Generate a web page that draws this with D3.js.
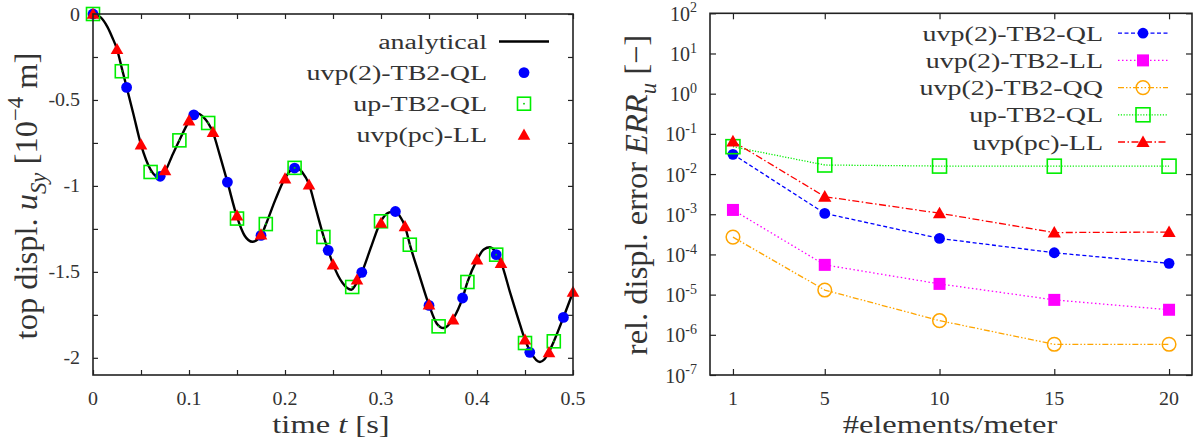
<!DOCTYPE html>
<html>
<head>
<meta charset="utf-8">
<script src="https://cdn.jsdelivr.net/npm/d3@7"></script>
<style>
  body { margin: 0; background: #fff; }
  text { font-family: "Liberation Serif", "DejaVu Serif", serif; fill: #333; }
</style>
</head>
<body>
<svg id="fig" width="1197" height="448"></svg>
<script>
// ---- left panel: top displacement over time ----
const tAnalytical = [0, 0.008, 0.015, 0.02, 0.025, 0.03, 0.035, 0.042, 0.05, 0.06, 0.067, 0.075, 0.082, 0.09, 0.1, 0.109,
  0.115, 0.12, 0.125, 0.132, 0.14, 0.15, 0.158, 0.166, 0.175, 0.18, 0.19, 0.2, 0.211, 0.218, 0.225, 0.232, 0.24, 0.245,
  0.25, 0.26, 0.269, 0.275, 0.28, 0.29, 0.3, 0.308, 0.315, 0.32, 0.325, 0.33, 0.34, 0.35, 0.358, 0.365, 0.375, 0.385,
  0.39, 0.4, 0.407, 0.4135, 0.42, 0.425, 0.435, 0.445, 0.45, 0.456, 0.4656, 0.47, 0.475, 0.48, 0.49, 0.5];
const uAnalytical = [0, -0.02, -0.075, -0.135, -0.205, -0.315, -0.425, -0.58, -0.76, -0.905, -0.945, -0.915, -0.83, -0.735, -0.625, -0.578,
  -0.6, -0.635, -0.69, -0.82, -0.977, -1.18, -1.29, -1.325, -1.29, -1.225, -1.08, -0.955, -0.89, -0.92, -0.99, -1.13, -1.29, -1.375,
  -1.455, -1.565, -1.604, -1.56, -1.503, -1.35, -1.205, -1.155, -1.148, -1.18, -1.235, -1.34, -1.52, -1.693, -1.8, -1.827, -1.775, -1.652,
  -1.56, -1.43, -1.37, -1.357, -1.39, -1.445, -1.63, -1.81, -1.895, -1.968, -2.024, -2.01, -1.965, -1.905, -1.765, -1.617];

const tQL = [0, 0.035, 0.07, 0.105, 0.14, 0.175, 0.21, 0.245, 0.28, 0.315, 0.35, 0.385, 0.42, 0.455, 0.49];
const uQL = [0, -0.427, -0.944, -0.587, -0.978, -1.288, -0.896, -1.375, -1.503, -1.149, -1.695, -1.652, -1.4, -1.968, -1.765];

const tUp = [0, 0.03, 0.06, 0.09, 0.12, 0.15, 0.18, 0.21, 0.24, 0.27, 0.3, 0.33, 0.36, 0.39, 0.42, 0.45, 0.48];
const uUp = [0, -0.333, -0.919, -0.735, -0.634, -1.19, -1.222, -0.895, -1.297, -1.588, -1.206, -1.342, -1.817, -1.559, -1.4, -1.914, -1.904];

const tPC = [0, 0.025, 0.05, 0.075, 0.1, 0.125, 0.15, 0.175, 0.2, 0.225, 0.25, 0.275, 0.3, 0.325, 0.35, 0.375, 0.4, 0.425, 0.45, 0.475, 0.5];
const uPC = [0, -0.205, -0.76, -0.91, -0.62, -0.687, -1.173, -1.283, -0.958, -0.993, -1.458, -1.546, -1.216, -1.235, -1.691, -1.778, -1.429, -1.449, -1.895, -1.968, -1.617];

const leftXTicks = [0, 0.1, 0.2, 0.3, 0.4, 0.5];
const leftYTicks = [0, -0.5, -1, -1.5, -2];
const leftYTickLabels = ["0", "-0.5", "-1", "-1.5", "-2"];
const leftLegend = ["analytical", "uvp(2)-TB2-QL", "up-TB2-QL", "uvp(pc)-LL"];

// ---- right panel: convergence ----
const elemsPerMeter = [1, 5, 10, 15, 20];
const errUvpQL = [3.1e-2, 1.05e-3, 2.5e-4, 1.1e-4, 6.0e-5];
const errUvpLL = [1.28e-3, 5.5e-5, 1.85e-5, 7.4e-6, 4.2e-6];
const errUvpQQ = [2.7e-4, 1.3e-5, 2.25e-6, 5.8e-7, 5.8e-7];
const errUpQL = [4.8e-2, 1.68e-2, 1.58e-2, 1.57e-2, 1.57e-2];
const errUvpPC = [6.5e-2, 2.74e-3, 1.06e-3, 3.5e-4, 3.6e-4];
const rightYExponents = [2, 1, 0, -1, -2, -3, -4, -5, -6, -7];
const rightLegend = ["uvp(2)-TB2-QL", "uvp(2)-TB2-LL", "uvp(2)-TB2-QQ", "up-TB2-QL", "uvp(pc)-LL"];

const svg = d3.select("#fig");
const INK = "#222";

// text helper: parts with italic / sub / sup, stretched horizontally like the original
function addText(g, x, y, parts, o) {
  const size = o.size, sx = o.sx || 1;
  const t = g.append("text")
    .attr("transform", o.rotate
      ? `translate(${x},${y}) rotate(-90) scale(1,${sx})`
      : `translate(${x},${y}) scale(${sx},1)`)
    .attr("text-anchor", o.anchor || "middle")
    .attr("font-size", size);
  let shift = 0;
  parts.forEach(p => {
    if (typeof p === "string") p = { t: p };
    const s = t.append("tspan").text(p.t);
    const target = p.sub ? size * 0.28 : p.sup ? -size * 0.42 : 0;
    if (target !== shift) { s.attr("dy", target - shift); shift = target; }
    if (p.sub || p.sup) s.attr("font-size", size * 0.7);
    if (p.it) s.attr("font-style", "italic");
  });
  return t;
}

function triPath(s) {
  return `M0,${-s * 0.55}L${s * 0.55},${s * 0.42}L${-s * 0.55},${s * 0.42}Z`;
}

// =============== LEFT PANEL ===============
const L = { x0: 93, x1: 573, y0: 14, y1: 375 };
const xL = d3.scaleLinear().domain([0, 0.5]).range([L.x0, L.x1]);
const yL = d3.scaleLinear().domain([-2.1, 0]).range([L.y1, L.y0]);
const gL = svg.append("g");

function ticksOnly(g, axis, tr) {
  const a = g.append("g").attr("transform", tr).call(axis);
  a.select(".domain").remove();
  a.selectAll(".tick text").remove();
  a.selectAll(".tick line").attr("stroke", INK).attr("stroke-width", 1.2);
}
const xMinorL = d3.range(0, 0.5001, 0.05);
const yMinorL = d3.range(-2, 0.0001, 0.25);
ticksOnly(gL, d3.axisBottom(xL).tickValues(xMinorL).tickSize(-5), `translate(0,${L.y1})`);
ticksOnly(gL, d3.axisTop(xL).tickValues(xMinorL).tickSize(-5), `translate(0,${L.y0})`);
ticksOnly(gL, d3.axisLeft(yL).tickValues(yMinorL).tickSize(-5), `translate(${L.x0},0)`);
ticksOnly(gL, d3.axisRight(yL).tickValues(yMinorL).tickSize(-5), `translate(${L.x1},0)`);

leftXTicks.forEach(v => addText(gL, xL(v), 405, [String(v)], { size: 19, sx: 1.05 }));
leftYTicks.forEach((v, i) => addText(gL, 80, yL(v) + 6.5, [leftYTickLabels[i]], { size: 19, sx: 1.05, anchor: "end" }));

const curve = d3.line().x(d => xL(d[0])).y(d => yL(d[1])).curve(d3.curveMonotoneX);
gL.append("path")
  .datum(d3.zip(tAnalytical, uAnalytical))
  .attr("d", curve)
  .attr("fill", "none").attr("stroke", "#000").attr("stroke-width", 2.4);

gL.selectAll("circle.ql").data(d3.zip(tQL, uQL)).join("circle")
  .attr("cx", d => xL(d[0])).attr("cy", d => yL(d[1])).attr("r", 5.4).attr("fill", "#0000ff");

function greenSquare(g, x, y, s, dot) {
  g.append("rect").attr("x", x - s / 2).attr("y", y - s / 2).attr("width", s).attr("height", s)
    .attr("fill", "none").attr("stroke", "#00ee00").attr("stroke-width", 1.6);
  if (dot) g.append("rect").attr("x", x - 0.8).attr("y", y - 0.8).attr("width", 1.6).attr("height", 1.6).attr("fill", "#00cc00");
}
d3.zip(tUp, uUp).forEach(d => greenSquare(gL, xL(d[0]), yL(d[1]), 13, true));

gL.selectAll("path.pc").data(d3.zip(tPC, uPC)).join("path")
  .attr("transform", d => `translate(${xL(d[0])},${yL(d[1])})`)
  .attr("d", triPath(11.5)).attr("fill", "#ff0000");

gL.append("rect").attr("x", L.x0).attr("y", L.y0).attr("width", L.x1 - L.x0).attr("height", L.y1 - L.y0)
  .attr("fill", "none").attr("stroke", INK).attr("stroke-width", 1.6);

// left legend
leftLegend.forEach((name, i) => {
  const yy = 41.5 + i * 31.1;
  addText(gL, 487, yy + 7.5, [name], { size: 20, sx: 1.4, anchor: "end" });
  const mx = 524;
  if (i === 0) gL.append("line").attr("x1", 499).attr("x2", 549).attr("y1", yy).attr("y2", yy)
    .attr("stroke", "#000").attr("stroke-width", 2.4);
  if (i === 1) gL.append("circle").attr("cx", mx).attr("cy", yy).attr("r", 5.4).attr("fill", "#0000ff");
  if (i === 2) greenSquare(gL, mx, yy, 13, true);
  if (i === 3) gL.append("path").attr("transform", `translate(${mx},${yy})`).attr("d", triPath(11.5)).attr("fill", "#ff0000");
});

addText(gL, 331, 433, ["time ", { t: "t", it: true }, " [s]"], { size: 25, sx: 1.3 });
addText(gL, 37, 196, ["top displ. ", { t: "u", it: true }, { t: "Sy", it: true, sub: true }, " [10",
  { t: "\u22124", sup: true }, " m]"], { size: 32.5, rotate: true });

// =============== RIGHT PANEL ===============
const R = { x0: 710, x1: 1192, y0: 13.3, y1: 375 };
const xR = d3.scaleLinear().domain([0, 21]).range([R.x0, R.x1]);
const yR = d3.scaleLog().domain([1e-7, 1e2]).range([R.y1, R.y0]);
const gR = svg.append("g");

const decades = rightYExponents.map(e => Math.pow(10, e));
ticksOnly(gR, d3.axisBottom(xR).tickValues(elemsPerMeter).tickSize(-6), `translate(0,${R.y1})`);
ticksOnly(gR, d3.axisTop(xR).tickValues(elemsPerMeter).tickSize(-6), `translate(0,${R.y0})`);
ticksOnly(gR, d3.axisLeft(yR).tickValues(decades).tickSize(-6), `translate(${R.x0},0)`);
ticksOnly(gR, d3.axisRight(yR).tickValues(decades).tickSize(-6), `translate(${R.x1},0)`);

elemsPerMeter.forEach(v => addText(gR, xR(v), 405, [String(v)], { size: 19, sx: 1.05 }));
rightYExponents.forEach(e => addText(gR, 697, yR(Math.pow(10, e)) + 7.5,
  ["10", { t: String(e), sup: true }], { size: 20, sx: 1.0, anchor: "end" }));

const series = [
  { v: errUvpQL, color: "#0000ff", dash: "4,2.5", mark: "disc" },
  { v: errUvpLL, color: "#ff00ff", dash: "1.5,2.5", mark: "fsquare" },
  { v: errUvpQQ, color: "#ffa500", dash: "6,2,1.5,2,1.5,2", mark: "ocircle" },
  { v: errUpQL, color: "#00ee00", dash: "1.2,1.6", mark: "osquare" },
  { v: errUvpPC, color: "#ff0000", dash: "7,2.5,1.5,2.5", mark: "tri" }
];

function marker(g, kind, color, x, y) {
  if (kind === "disc") g.append("circle").attr("cx", x).attr("cy", y).attr("r", 5.4).attr("fill", color);
  if (kind === "fsquare") g.append("rect").attr("x", x - 6).attr("y", y - 6).attr("width", 12).attr("height", 12).attr("fill", color);
  if (kind === "ocircle") g.append("circle").attr("cx", x).attr("cy", y).attr("r", 6.8)
    .attr("fill", "none").attr("stroke", color).attr("stroke-width", 1.5);
  if (kind === "osquare") g.append("rect").attr("x", x - 7).attr("y", y - 7).attr("width", 14).attr("height", 14)
    .attr("fill", "none").attr("stroke", color).attr("stroke-width", 1.6);
  if (kind === "tri") g.append("path").attr("transform", `translate(${x},${y})`).attr("d", triPath(12)).attr("fill", color);
}

const lineR = d3.line().x(d => xR(d[0])).y(d => yR(d[1]));
series.forEach(s => {
  gR.append("path").datum(d3.zip(elemsPerMeter, s.v)).attr("d", lineR)
    .attr("fill", "none").attr("stroke", s.color).attr("stroke-width", 1.3).attr("stroke-dasharray", s.dash);
  elemsPerMeter.forEach((e, i) => marker(gR, s.mark, s.color, xR(e), yR(s.v[i])));
});

gR.append("rect").attr("x", R.x0).attr("y", R.y0).attr("width", R.x1 - R.x0).attr("height", R.y1 - R.y0)
  .attr("fill", "none").attr("stroke", INK).attr("stroke-width", 1.6);

rightLegend.forEach((name, i) => {
  const yy = 33.2 + i * 27.2, s = series[i];
  addText(gR, 1103, yy + 7.5, [name], { size: 20, sx: 1.4, anchor: "end" });
  gR.append("line").attr("x1", 1118).attr("x2", 1168).attr("y1", yy).attr("y2", yy)
    .attr("stroke", s.color).attr("stroke-width", 1.3).attr("stroke-dasharray", s.dash);
  marker(gR, s.mark, s.color, 1143, yy);
});

addText(gR, 950, 433, ["#elements/meter"], { size: 25, sx: 1.3 });
addText(gR, 647, 195, ["rel. displ. error ", { t: "ERR", it: true }, { t: "u", it: true, sub: true }, " [\u2212]"],
  { size: 32.5, rotate: true });
</script>
</body>
</html>
